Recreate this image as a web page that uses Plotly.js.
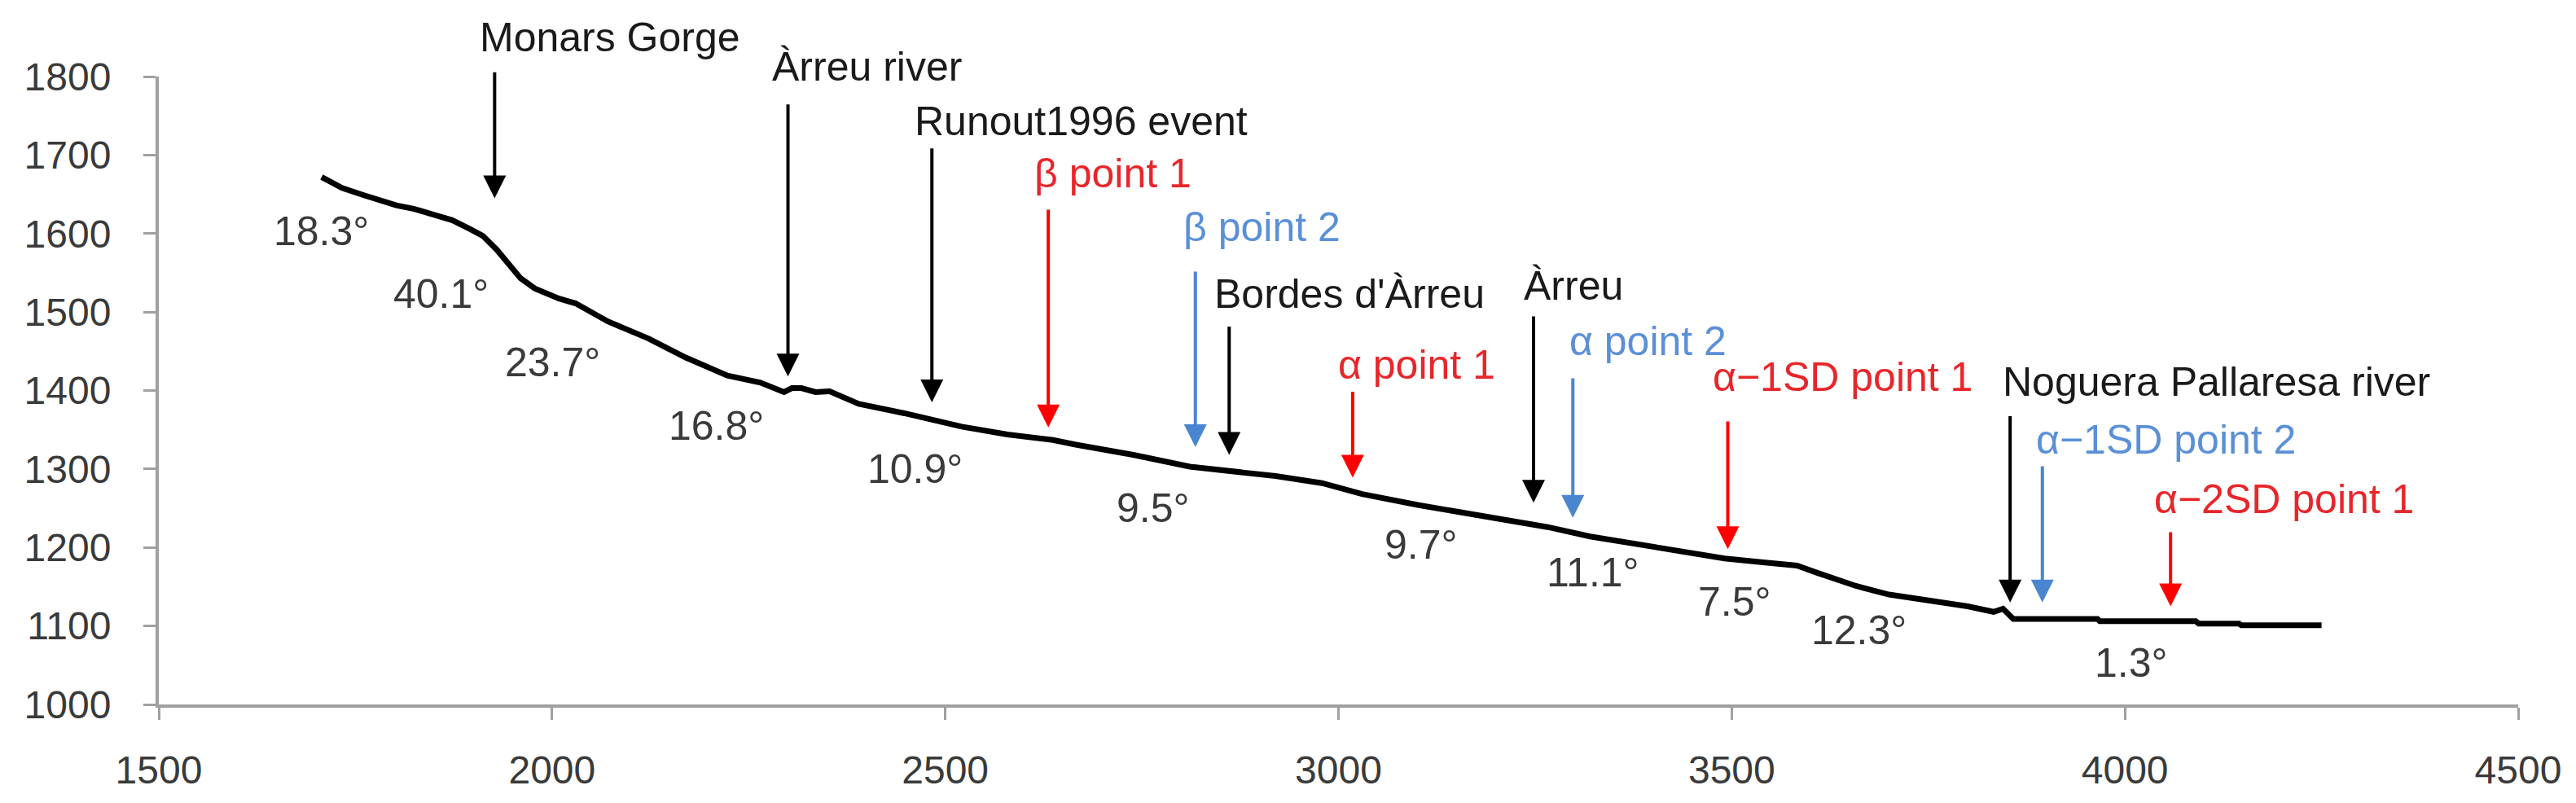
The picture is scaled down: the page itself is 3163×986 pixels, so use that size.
<!DOCTYPE html>
<html>
<head>
<meta charset="utf-8">
<script src="https://cdn.plot.ly/plotly-3.0.1.min.js"></script>
<style>html,body{margin:0;padding:0;background:#fff;}#chart{width:3163px;height:986px;}</style>
</head>
<body>
<div id="chart"></div>
<script>
// Longitudinal profile: distance (m) vs elevation (m)
const profileX = [1707,1733,1760,1802,1826,1850,1873,1895,1912,1930,1947,1960,1978,2009,2030,2071,2123,2170,2223,2265,2295,2305,2317,2335,2353,2390,2448,2521,2579,2637,2666,2739,2811,2855,2920,2979,3030,3102,3175,3247,3266,3320,3369,3445,3491,3540,3583,3608,3658,3700,3766,3800,3833,3845,3858,3965,3968,4090,4094,4145,4148,4250];
const profileY = [1672,1658,1649,1636,1631,1624,1617,1606,1597,1579,1559,1543,1530,1517,1511,1488,1466,1442,1419,1410,1398,1403,1403,1398,1399,1383,1371,1354,1344,1337,1331,1318,1303,1298,1291,1282,1268,1254,1241,1229,1226,1214,1206,1194,1186,1181,1177,1168,1151,1140,1131,1125,1118,1122,1109,1109,1106,1106,1103,1103,1101,1101];

// Marked points along the profile
const markerNames = ["Monars Gorge","Àrreu river","Runout1996 event","β point 1","β point 2","Bordes d'Àrreu","α point 1","Àrreu","α point 2","α−1SD point 1","Noguera Pallaresa river","α−1SD point 2","α−2SD point 1"];
const markerDist  = [1927,2300,2483,2631,2818,2861,3018,3248,3298,3495,3854,3895,4058];
const markerGroup = ["site","site","site","point1","point2","site","point1","site","point2","point1","site","point2","point1"];

// Slope angles of the profile segments
const slopeLabels = ["18.3°","40.1°","23.7°","16.8°","10.9°","9.5°","9.7°","11.1°","7.5°","12.3°","1.3°"];
const slopeX = [1707,1859,2001,2209,2462,2764,3105,3324,3504,3662,4008];
const slopeY = [1603,1523,1436,1355,1300,1250,1203,1168,1131,1094,1053];

const xTicks = [1500,2000,2500,3000,3500,4000,4500];
const yTicks = [1000,1100,1200,1300,1400,1500,1600,1700,1800];

// ---- layout / styling (not data) ----
const arrowTail = [1807,1766,1710,1632,1553,1483,1400,1496,1417,1362,1369,1305,1221];
const arrowTip  = [1645,1418,1385,1353,1328,1318,1289,1257,1238,1198,1130,1130,1125];
const labelLeft = [1906,2278,2459,2611,2801,2840,2997,3233,3291,3474,3842,3885,4035];
const labelMid  = [1850,1812,1743,1677,1608,1523,1433,1533,1463,1417,1411,1337,1261];
const arrowColors = {site:"#000000", point1:"#ff0000", point2:"#4a86d0"};
const textColors  = {site:"#1a1a1a", point1:"#e8262a", point2:"#5b90d8"};
const Y0 = 1000, Y1 = 1800;
const toPaper = v => (v - Y0) / (Y1 - Y0);
const FONT = "Liberation Sans, Arial, sans-serif";

const annotations = [];
markerNames.forEach((name, i) => {
  const g = markerGroup[i];
  annotations.push({
    x: markerDist[i], y: arrowTip[i], xref: "x", yref: "y",
    ax: markerDist[i], ay: arrowTail[i], axref: "x", ayref: "y",
    text: "", showarrow: true, arrowhead: 2, arrowsize: 1.4, arrowwidth: 4,
    arrowcolor: arrowColors[g]
  });
  annotations.push({
    x: labelLeft[i], y: toPaper(labelMid[i]), xref: "x", yref: "paper",
    text: name, showarrow: false, xanchor: "left", yanchor: "middle",
    font: {family: FONT, size: 50, color: textColors[g]}
  });
});
slopeLabels.forEach((t, i) => {
  annotations.push({
    x: slopeX[i], y: slopeY[i], xref: "x", yref: "y",
    text: t, showarrow: false, xanchor: "center", yanchor: "middle",
    font: {family: FONT, size: 50, color: "#3a3a3a"}
  });
});

const trace = {
  x: profileX, y: profileY, type: "scatter", mode: "lines",
  line: {color: "#000000", width: 7}, hoverinfo: "skip", showlegend: false
};

const axisCommon = {
  showgrid: false, zeroline: false, showline: true, linecolor: "#a0a0a0", linewidth: 4,
  ticks: "outside", tickcolor: "#a0a0a0", tickwidth: 3, ticklen: 15,
  tickfont: {family: FONT, size: 48, color: "#3a3a3a"}, fixedrange: true
};

const layout = {
  width: 3163, height: 986,
  margin: {l: 195, r: 71, t: 94, b: 121},
  paper_bgcolor: "#ffffff", plot_bgcolor: "#ffffff",
  showlegend: false,
  xaxis: Object.assign({}, axisCommon, {range: [1500, 4500], tickvals: xTicks, ticktext: xTicks.map(String), ticklabelstandoff: 20}),
  yaxis: Object.assign({}, axisCommon, {range: [1000, 1800], tickvals: yTicks, ticktext: yTicks.map(String), ticklabelstandoff: 30}),
  annotations: annotations
};

Plotly.newPlot("chart", [trace], layout, {staticPlot: true, displayModeBar: false});
</script>
</body>
</html>
